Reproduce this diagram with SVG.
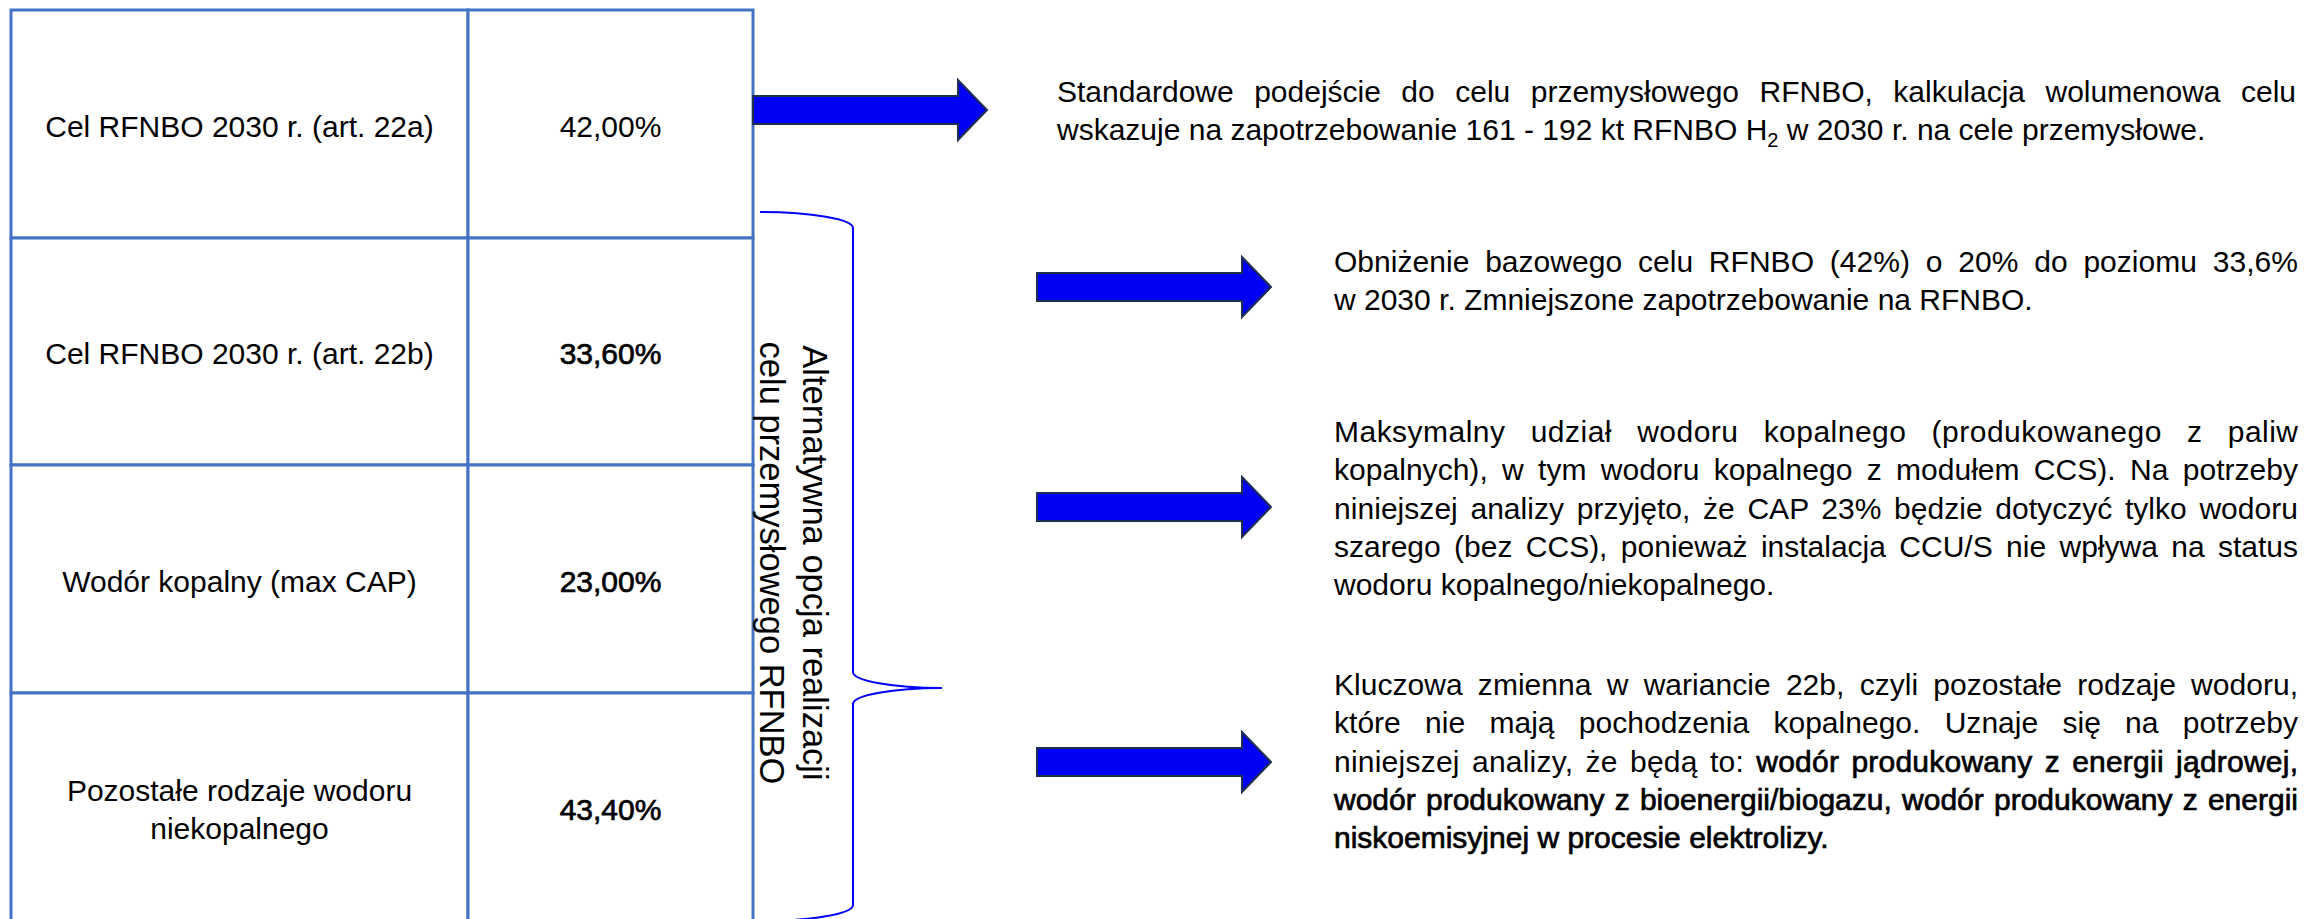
<svg xmlns="http://www.w3.org/2000/svg" width="2307" height="919" viewBox="0 0 2307 919">
<style>
.t{font-family:"Liberation Sans",Arial,sans-serif;font-size:30px;fill:#000}
.c{text-anchor:middle}
.b{stroke:#000;stroke-width:0.7px}
.cell{fill:#fff;stroke:#4472C4;stroke-width:3}
.arrow{fill:#0000F5;stroke:#1F2F4F;stroke-width:2;stroke-linejoin:miter}
.brace{fill:none;stroke:#0000FF;stroke-width:2}
.vt{font-family:"Liberation Sans",Arial,sans-serif;font-size:34.5px;fill:#000;text-anchor:middle}
</style>
<defs>
<path id="arrowShape" d="M0,-14 H205 V-30 L234,0 L205,30 V14 H0 Z"/>
</defs>
<rect width="2307" height="919" fill="#fff"/>

<g id="row1">
<rect class="cell" x="11" y="10" width="457" height="228"/>
<rect class="cell" x="468" y="10" width="285" height="228"/>
<text class="t c" x="239.5" y="137">Cel RFNBO 2030 r. (art. 22a)</text>
<text class="t c" x="610.5" y="137">42,00%</text>
</g>
<g id="row2">
<rect class="cell" x="11" y="238" width="457" height="227"/>
<rect class="cell" x="468" y="238" width="285" height="227"/>
<text class="t c" x="239.5" y="364">Cel RFNBO 2030 r. (art. 22b)</text>
<text class="t c b" x="610.5" y="364">33,60%</text>
</g>
<g id="row3">
<rect class="cell" x="11" y="465" width="457" height="228"/>
<rect class="cell" x="468" y="465" width="285" height="228"/>
<text class="t c" x="239.5" y="592">Wodór kopalny (max CAP)</text>
<text class="t c b" x="610.5" y="592">23,00%</text>
</g>
<g id="row4">
<rect class="cell" x="11" y="693" width="457" height="228"/>
<rect class="cell" x="468" y="693" width="285" height="228"/>
<text class="t c" x="239.5" y="801">Pozostałe rodzaje wodoru</text>
<text class="t c" x="239.5" y="839">niekopalnego</text>
<text class="t c b" x="610.5" y="820">43,40%</text>
</g>

<g id="brace-group">
<path class="brace" d="M760,212 A93,16 0 0 1 853,228 V672 A89,16 0 0 0 942,688 A89,16 0 0 0 853,704 V905 A93,16 0 0 1 760,921"/>
<g transform="translate(803,563) rotate(90)">
<text class="vt" x="0" y="0">Alternatywna opcja realizacji</text>
<text class="vt" x="0" y="43">celu przemysłowego RFNBO</text>
</g>
</g>

<g id="connectors">
<use href="#arrowShape" class="arrow" transform="translate(753,110)"/>
<use href="#arrowShape" class="arrow" transform="translate(1037,287)"/>
<use href="#arrowShape" class="arrow" transform="translate(1037,507)"/>
<use href="#arrowShape" class="arrow" transform="translate(1037,762)"/>
</g>

<g id="desc1">
<text class="t" x="1057" y="102" word-spacing="12.2" textLength="1239" lengthAdjust="spacing">Standardowe podejście do celu przemysłowego RFNBO, kalkulacja wolumenowa celu</text>
<text class="t" x="1057" y="140">wskazuje na zapotrzebowanie 161 - 192 kt RFNBO H<tspan font-size="20" dy="7">2</tspan><tspan dy="-7"> w 2030 r. na cele przemysłowe.</tspan></text>
</g>

<g id="desc2">
<text class="t" x="1334" y="272" word-spacing="7.4" textLength="964" lengthAdjust="spacing">Obniżenie bazowego celu RFNBO (42%) o 20% do poziomu 33,6%</text>
<text class="t" x="1334" y="310">w 2030 r. Zmniejszone zapotrzebowanie na RFNBO.</text>
</g>

<g id="desc3">
<text class="t" x="1334" y="442" word-spacing="16.4" textLength="964" lengthAdjust="spacing">Maksymalny udział wodoru kopalnego (produkowanego z paliw</text>
<text class="t" x="1334" y="480.3" word-spacing="5.9" textLength="964" lengthAdjust="spacing">kopalnych), w tym wodoru kopalnego z modułem CCS). Na potrzeby</text>
<text class="t" x="1334" y="518.6" word-spacing="4.2" textLength="964" lengthAdjust="spacing">niniejszej analizy przyjęto, że CAP 23% będzie dotyczyć tylko wodoru</text>
<text class="t" x="1334" y="556.9" word-spacing="5.1" textLength="964" lengthAdjust="spacing">szarego (bez CCS), ponieważ instalacja CCU/S nie wpływa na status</text>
<text class="t" x="1334" y="595.2">wodoru kopalnego/niekopalnego.</text>
</g>

<g id="desc4">
<text class="t" x="1334" y="695" word-spacing="6.9" textLength="964" lengthAdjust="spacing">Kluczowa zmienna w wariancie 22b, czyli pozostałe rodzaje wodoru,</text>
<text class="t" x="1334" y="733.3" word-spacing="15.9" textLength="964" lengthAdjust="spacing">które nie mają pochodzenia kopalnego. Uznaje się na potrzeby</text>
<text class="t" x="1334" y="771.6" word-spacing="3.7" textLength="964" lengthAdjust="spacing">niniejszej analizy, że będą to: <tspan class="b">wodór produkowany z energii jądrowej,</tspan></text>
<text class="t b" x="1334" y="809.9" word-spacing="1.9" textLength="964" lengthAdjust="spacing">wodór produkowany z bioenergii/biogazu, wodór produkowany z energii</text>
<text class="t b" x="1334" y="848.2">niskoemisyjnej w procesie elektrolizy.</text>
</g>
</svg>
